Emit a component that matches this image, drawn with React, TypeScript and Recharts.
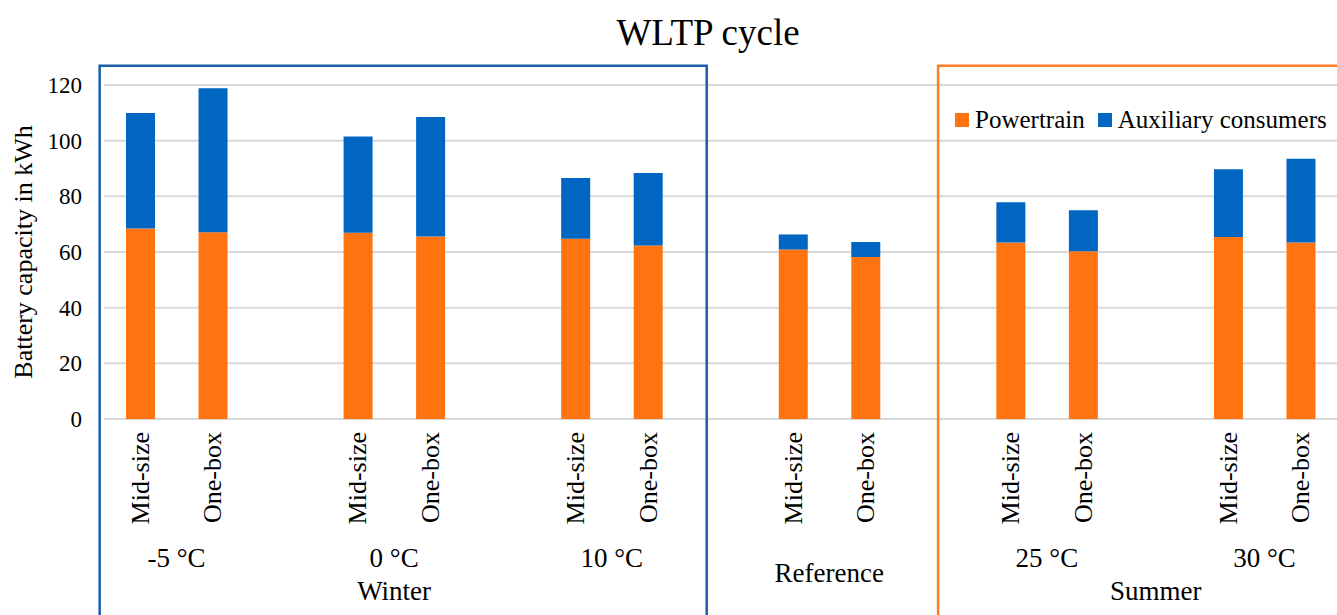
import React from 'react';
import { BarChart, Bar, XAxis, YAxis, CartesianGrid, ReferenceArea, Legend } from 'recharts';

// ---------- data ----------
const groups = ['-5 °C', '0 °C', '10 °C', 'Reference', '25 °C', '30 °C'];
const vehicles = ['Mid-size', 'One-box'];
const powertrain = [68.4, 67.1, 66.9, 65.6, 64.8, 62.3, 60.9, 58.2, 63.4, 60.3, 65.4, 63.4];
const auxiliary = [41.5, 51.7, 34.6, 42.9, 21.8, 26.1, 5.4, 5.4, 14.5, 14.7, 24.3, 30.1];
const seasons = ['Winter', 'Summer'];
const seasonGroups = [[0, 1, 2], [4, 5]];
const yTicks = [0, 20, 40, 60, 80, 100, 120];
const seriesNames = ['Powertrain', 'Auxiliary consumers'];

// ---------- layout / style ----------
const FONT = '"Liberation Serif", "Times New Roman", serif';
const ORANGE = '#FF7311';
const BLUE = '#0066C2';
const BOX_BLUE = '#1C5EA8';
const BOX_ORANGE = '#FF7D26';
const SLOTS_PER_GROUP = 3;
const TOTAL_SLOTS = groups.length * SLOTS_PER_GROUP - 1;

const data = groups.flatMap((g, gi) =>
  vehicles.map((v, vi) => {
    const i = gi * vehicles.length + vi;
    return {
      x: gi * SLOTS_PER_GROUP + vi + 0.5,
      group: g,
      vehicle: v,
      powertrain: powertrain[i],
      auxiliary: auxiliary[i],
    };
  })
);
const groupCenters = groups.map((_, gi) => gi * SLOTS_PER_GROUP + 1);
const seasonCenters = seasonGroups.map(
  (gs) => (groupCenters[gs[0]] + groupCenters[gs[gs.length - 1]]) / 2
);
const seasonBoxes = [
  { x1: -0.06, x2: 8.31, color: BOX_BLUE },
  { x1: 11.5, x2: 17.6, color: BOX_ORANGE },
];
const BOX_TOP = 126.9;
const BOX_BOTTOM = -80;

const VehicleTick = (props: any) => {
  const { x, y, payload } = props;
  const d = data.find((e) => Math.abs(e.x - payload.value) < 1e-6);
  if (!d) return null;
  return (
    <text
      x={x}
      y={y}
      transform={`rotate(-90 ${x} ${y})`}
      textAnchor="end"
      dy="0.33em"
      fontSize={26}
      fontFamily={FONT}
      fill="#000"
    >
      {d.vehicle}
    </text>
  );
};

const GroupTick = (props: any) => {
  const { x, y, payload } = props;
  const gi = groupCenters.findIndex((c) => Math.abs(c - payload.value) < 1e-6);
  if (gi < 0) return null;
  const isRef = seasonGroups.every((gs) => !gs.includes(gi));
  return (
    <text x={x} y={y} dy={isRef ? 35 : 20} textAnchor="middle" fontSize={27} fontFamily={FONT} fill="#000">
      {groups[gi]}
    </text>
  );
};

const SeasonTick = (props: any) => {
  const { x, y, payload } = props;
  const si = seasonCenters.findIndex((c) => Math.abs(c - payload.value) < 1e-6);
  if (si < 0) return null;
  return (
    <text x={x} y={y} dy={25} textAnchor="middle" fontSize={27} fontFamily={FONT} fill="#000">
      {seasons[si]}
    </text>
  );
};

const LegendContent = (props: any) => {
  const payload = [...(props.payload || [])].sort(
    (a: any, b: any) => seriesNames.indexOf(a.value) - seriesNames.indexOf(b.value)
  );
  return (
    <div style={{ display: 'flex', alignItems: 'center', fontSize: 25, lineHeight: '30px', fontFamily: FONT, color: '#000', whiteSpace: 'nowrap' }}>
      {payload.map((p: any, i: number) => (
        <div key={i} style={{ display: 'flex', alignItems: 'center', marginRight: i === 0 ? 13 : 0 }}>
          <span style={{ display: 'inline-block', width: 14, height: 14, background: p.color, marginRight: 6 }} />
          <span>{p.value}</span>
        </div>
      ))}
    </div>
  );
};

const YLabel = (props: any) => {
  const vb = props.viewBox || { x: 0, y: 85, width: 104, height: 334 };
  const cx = vb.x + 23;
  const cy = vb.y + vb.height / 2;
  return (
    <text x={cx} y={cy} transform={`rotate(-90 ${cx} ${cy})`} textAnchor="middle" dy="0.35em" fontSize={26} fontFamily={FONT} fill="#000">
      Battery capacity in kWh
    </text>
  );
};

export default function App() {
  return (
    <div style={{ position: 'absolute', left: 0, top: 0, width: 1337, height: 615, fontFamily: FONT, background: '#fff' }}>
      <svg width={1337} height={60} style={{ position: 'absolute', left: 0, top: 0 }}>
        <text x={708} y={45} textAnchor="middle" fontSize={37} fontFamily={FONT} fill="#000">
          WLTP cycle
        </text>
      </svg>
      <BarChart
        width={1337}
        height={615}
        data={data}
        margin={{ top: 85, right: 0, left: 0, bottom: 0 }}
        style={{ position: 'absolute', left: 0, top: 0 }}
      >
        <CartesianGrid vertical={false} stroke="#D9D9D9" strokeWidth={2} />
        <XAxis
          xAxisId={0}
          dataKey="x"
          type="number"
          domain={[0, TOTAL_SLOTS]}
          ticks={data.map((d) => d.x)}
          interval={0}
          tick={VehicleTick}
          tickLine={false}
          axisLine={false}
          tickSize={0}
          tickMargin={13}
          height={128}
        />
        <XAxis
          xAxisId="grp"
          dataKey="x"
          type="number"
          domain={[0, TOTAL_SLOTS]}
          ticks={groupCenters}
          interval={0}
          tick={GroupTick}
          tickLine={false}
          axisLine={false}
          tickSize={0}
          tickMargin={0}
          height={28}
        />
        <XAxis
          xAxisId="season"
          dataKey="x"
          type="number"
          domain={[0, TOTAL_SLOTS]}
          ticks={seasonCenters}
          interval={0}
          tick={SeasonTick}
          tickLine={false}
          axisLine={false}
          tickSize={0}
          tickMargin={0}
          height={40}
        />
        <YAxis
          domain={[0, 120]}
          ticks={yTicks}
          interval={0}
          width={104}
          tickLine={false}
          axisLine={false}
          tickSize={0}
          tickMargin={22}
          tick={{ fill: '#000', fontSize: 23, fontFamily: FONT }}
          label={{ content: YLabel }}
        />
        <Bar dataKey="powertrain" name={seriesNames[0]} stackId="a" fill={ORANGE} barSize={29} isAnimationActive={false} />
        <Bar dataKey="auxiliary" name={seriesNames[1]} stackId="a" fill={BLUE} barSize={29} isAnimationActive={false} />
        {seasonBoxes.map((b, i) => (
          <ReferenceArea
            key={i}
            xAxisId={0}
            x1={b.x1}
            x2={b.x2}
            y1={BOX_BOTTOM}
            y2={BOX_TOP}
            ifOverflow="visible"
            fill="none"
            fillOpacity={0}
            stroke={b.color}
            strokeWidth={2.5}
          />
        ))}
        <Legend
          layout="horizontal"
          verticalAlign="middle"
          align="center"
          wrapperStyle={{ top: 105, left: 955, width: 'auto', height: 'auto' }}
          content={LegendContent}
        />
      </BarChart>
    </div>
  );
}
